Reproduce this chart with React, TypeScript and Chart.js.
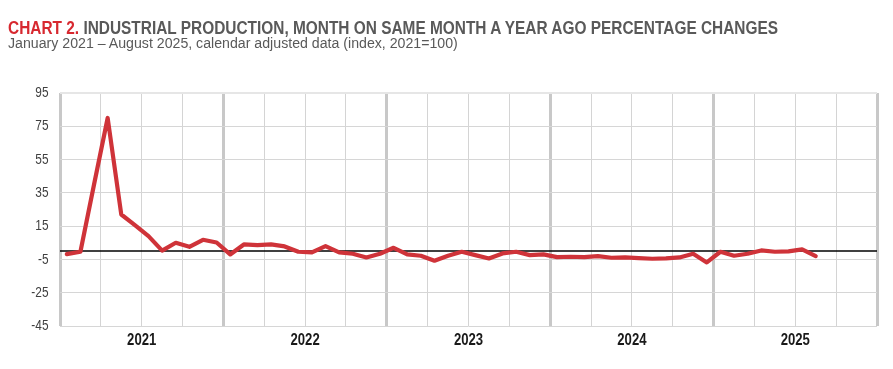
import React, { useEffect, useRef } from "react";
import { Chart, registerables } from "chart.js";

Chart.register(...registerables);

const yearLabels = ["2021", "2022", "2023", "2024", "2025"];
const totalMonths = 60;
const yTickMin = -45;
const yTickMax = 95;
const yTickStep = 20;

// Jan 2021 – Aug 2025, % change on same month a year ago
const growth = [
  -1.8, -0.4, 40, 80, 22, 15.6, 9.0, 0.3, 5.0, 2.6, 6.8, 5.2,
  -2.0, 4.0, 3.6, 4.0, 2.8, -0.4, -0.8, 3.0, -0.8, -1.6, -3.8, -1.6,
  2.0, -2.0, -2.8, -5.8, -2.8, -0.4, -2.4, -4.4, -1.4, -0.4, -2.4, -2.0,
  -3.6, -3.4, -3.6, -3.0, -4.0, -3.8, -4.2, -4.6, -4.4, -3.8, -1.6, -6.8,
  -0.4, -2.8, -1.6, 0.4, -0.4, -0.2, 1.0, -3.0,
];

const FONT = '"Liberation Sans", Arial, sans-serif';
const NARROW_FACTOR = 0.82;

// Draw the axis labels in a condensed (horizontally scaled) face, positioned by the chart's scales
const narrowLabels = {
  id: "narrowLabels",
  afterDraw(chart: any) {
    const ctx = chart.ctx as CanvasRenderingContext2D;
    const xs = chart.scales.x;
    const ys = chart.scales.y;
    ctx.save();
    ctx.fillStyle = "#404040";
    ctx.font = `15px ${FONT}`;
    ctx.textAlign = "right";
    ctx.textBaseline = "middle";
    ys.ticks.forEach((t: any) => {
      const y = ys.getPixelForValue(t.value);
      ctx.save();
      ctx.translate(xs.left - 11.5, y);
      ctx.scale(0.79, 1);
      ctx.fillText(String(t.value), 0, 0);
      ctx.restore();
    });
    ctx.fillStyle = "#1a1a1a";
    ctx.font = `bold 16px ${FONT}`;
    ctx.textAlign = "center";
    yearLabels.forEach((lab, k) => {
      const x = xs.getPixelForValue(6 + 12 * k);
      ctx.save();
      ctx.translate(x, ys.bottom + 15);
      ctx.scale(NARROW_FACTOR, 1);
      ctx.fillText(lab, 0, 0);
      ctx.restore();
    });
    ctx.restore();
  },
};

function FitText(props: { width: number; style: React.CSSProperties; children: React.ReactNode }) {
  const ref = useRef<HTMLDivElement | null>(null);
  useEffect(() => {
    const el = ref.current;
    if (!el) return;
    el.style.transform = "none";
    const w = el.scrollWidth;
    if (w > 0) el.style.transform = `scaleX(${props.width / w})`;
  }, [props.width]);
  return (
    <div
      ref={ref}
      style={{
        position: "absolute",
        whiteSpace: "nowrap",
        transformOrigin: "0 0",
        display: "inline-block",
        ...props.style,
      }}
    >
      {props.children}
    </div>
  );
}

export default function App() {
  const canvasRef = useRef<HTMLCanvasElement | null>(null);

  useEffect(() => {
    const canvas = canvasRef.current;
    if (!canvas) return;
    const chart = new Chart(canvas, {
      type: "line",
      data: {
        datasets: [
          {
            label: "Industrial production",
            data: growth.map((v, i) => ({ x: i + 0.5, y: v })),
            borderColor: "#cf3339",
            borderWidth: 4.2,
            pointRadius: 0,
            tension: 0,
            borderJoinStyle: "round",
            borderCapStyle: "round",
            order: 1,
          },
          {
            label: "zero",
            data: [
              { x: 0, y: 0 },
              { x: totalMonths, y: 0 },
            ],
            borderColor: "#000000",
            borderWidth: 1.5,
            pointRadius: 0,
            order: 2,
          },
        ],
      },
      options: {
        responsive: false,
        animation: false,
        devicePixelRatio: 1,
        layout: { padding: { top: 93, right: 16, left: 0, bottom: 0 } },
        plugins: {
          legend: { display: false },
          tooltip: { enabled: false },
          title: { display: false },
        },
        scales: {
          x: {
            type: "linear",
            min: 0,
            max: totalMonths,
            border: { display: false },
            grid: {
              drawTicks: false,
              color: (ctx: any) =>
                ctx.tick && ctx.tick.value % 12 === 0 ? "#c8c8c8" : "#d4d4d4",
              lineWidth: (ctx: any) =>
                ctx.tick && ctx.tick.value % 12 === 0 ? 3 : 1,
            },
            ticks: {
              stepSize: 3,
              autoSkip: false,
              display: false,
            },
            afterFit: (scale: any) => {
              scale.height = 43;
            },
          },
          y: {
            min: yTickMin,
            max: yTickMax,
            border: { display: false },
            grid: {
              drawTicks: false,
              color: (ctx: any) =>
                ctx.tick && ctx.tick.value === yTickMax ? "#e6e6e6" : "#d6d6d6",
              lineWidth: (ctx: any) =>
                ctx.tick && ctx.tick.value === yTickMax ? 2 : 1,
            },
            ticks: {
              stepSize: yTickStep,
              display: false,
            },
            afterFit: (scale: any) => {
              scale.width = 60;
            },
          },
        },
      },
      plugins: [narrowLabels],
    });
    return () => chart.destroy();
  }, []);

  return (
    <div>
      <canvas
        ref={canvasRef}
        width={893}
        height={369}
        style={{ position: "absolute", left: 0, top: 0, width: 893, height: 369 }}
      />
      <FitText
        width={770}
        style={{
          left: 8,
          top: 19,
          fontFamily: FONT,
          fontSize: 18,
          lineHeight: "18px",
          fontWeight: "bold",
          color: "#595959",
        }}
      >
        <span style={{ color: "#d7282f" }}>CHART 2.</span> INDUSTRIAL PRODUCTION, MONTH ON SAME MONTH A YEAR AGO PERCENTAGE CHANGES
      </FitText>
      <FitText
        width={450}
        style={{
          left: 8,
          top: 36,
          fontFamily: FONT,
          fontSize: 14,
          lineHeight: "14px",
          color: "#595959",
        }}
      >
        January 2021 – August 2025, calendar adjusted data (index, 2021=100)
      </FitText>
    </div>
  );
}
